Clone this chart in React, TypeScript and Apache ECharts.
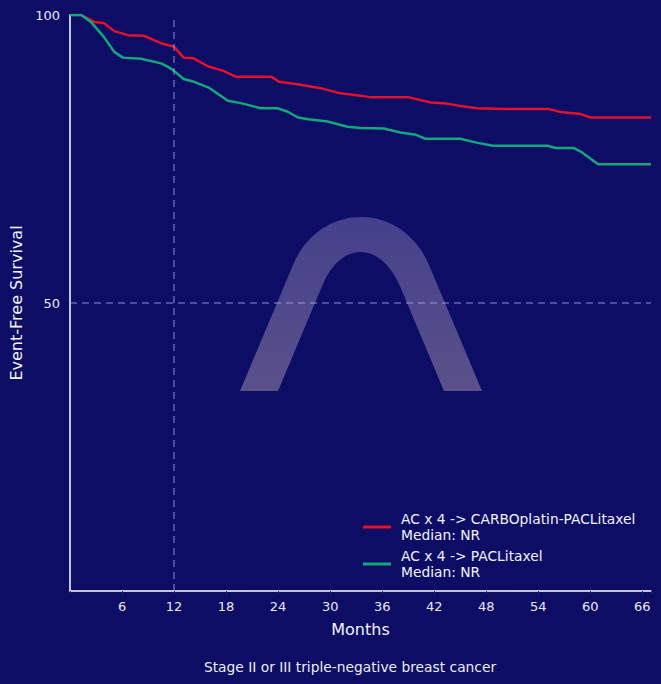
import React, { useEffect, useRef } from "react";
import * as echarts from "echarts";

// Kaplan–Meier style event-free survival estimates: [month, survival %]
const carboMonths = [0, 1.3, 2.8, 3.9, 5.1, 6.7, 8.5, 10.5, 12, 13.1, 14.2, 15.9, 17.7, 19.1, 23.2, 24.1, 26.6, 28.9, 31.2, 33.5, 34.7, 39.1, 41.6, 43.1, 45, 47, 50.2, 55.1, 56.8, 58.9, 60, 67];
const carboSurvival = [100, 100, 98.8, 98.6, 97.2, 96.5, 96.4, 95.1, 94.5, 92.6, 92.5, 91.1, 90.3, 89.3, 89.3, 88.4, 87.9, 87.3, 86.4, 86.0, 85.7, 85.7, 84.8, 84.7, 84.2, 83.8, 83.7, 83.7, 83.1, 82.8, 82.2, 82.2];

const pacliMonths = [0, 1.3, 2.4, 3.9, 5.1, 6.1, 8.2, 10.5, 11.3, 12, 13.1, 14.3, 16, 18.2, 19.7, 22, 24, 25.1, 26.3, 27.5, 29.7, 32, 33.5, 36.2, 38.1, 39.9, 41, 45, 47, 48.8, 55.1, 56, 58.1, 58.9, 60.9, 67];
const pacliSurvival = [100, 100, 98.8, 96.2, 93.6, 92.6, 92.4, 91.6, 91.0, 90.3, 88.9, 88.4, 87.4, 85.1, 84.7, 83.8, 83.8, 83.2, 82.2, 81.9, 81.5, 80.6, 80.4, 80.3, 79.6, 79.2, 78.5, 78.5, 77.8, 77.3, 77.3, 76.9, 76.9, 76.3, 74.1, 74.1];

const seriesNames = ["AC x 4 -> CARBOplatin-PACLitaxel", "AC x 4 -> PACLitaxel"];
const medianLabels = ["Median: NR", "Median: NR"];
const landmarkMonth = 12;
const halfSurvival = 50;

const FONT = "DejaVu Sans";

// Arch emblem outline
const archPath =
  "M240,391 L293,265 C320,201 402,201 429,265 L482,391 L444,391 L399.5,285 " +
  "C380,241 341,241 322.5,285 L278,391 Z";

let archRegistered = false;
function registerArch() {
  if (archRegistered) return;
  echarts.graphic.registerShape("arch", echarts.graphic.extendPath(archPath, {}) as any);
  archRegistered = true;
}

export default function App() {
  const ref = useRef<HTMLDivElement>(null);

  useEffect(() => {
    if (!ref.current) return;
    registerArch();
    const chart = echarts.init(ref.current, undefined, { renderer: "svg" });

    const zip = (xs: number[], ys: number[]) => xs.map((x, i) => [x, ys[i]]);

    chart.setOption({
      animation: false,
      backgroundColor: "#0d0d66",
      textStyle: { fontFamily: FONT },
      grid: { left: 70, right: 10, top: 15, bottom: 93 },
      xAxis: {
        type: "value",
        min: 0,
        max: 67,
        interval: 6,
        name: "Months",
        nameLocation: "middle",
        nameGap: 30,
        nameTextStyle: { color: "#f2f2f8", fontSize: 16, fontFamily: FONT },
        axisLine: { lineStyle: { color: "#ffffff", width: 1.5 } },
        axisTick: { show: true, length: 3, lineStyle: { color: "#262670" } },
        axisLabel: {
          color: "#e8e8f2",
          fontSize: 13,
          margin: 9,
          fontFamily: FONT,
          formatter: (v: number) => (v > 0 && v % 6 === 0 ? String(v) : ""),
        },
        splitLine: { show: false },
      },
      yAxis: {
        type: "value",
        min: 0,
        max: 100,
        interval: 50,
        name: "Event-Free Survival",
        nameLocation: "middle",
        nameGap: 44,
        nameTextStyle: { color: "#f2f2f8", fontSize: 16, fontFamily: FONT },
        axisLine: { show: true, lineStyle: { color: "#ffffff", width: 1.5 } },
        axisTick: { show: false },
        axisLabel: {
          color: "#e8e8f2",
          fontSize: 13,
          margin: 10,
          fontFamily: FONT,
          formatter: (v: number) => (v > 0 ? String(v) : ""),
        },
        splitLine: { show: false },
      },
      legend: {
        orient: "vertical",
        left: 358,
        top: 506,
        itemWidth: 28,
        itemHeight: 3,
        itemGap: 5,
        icon: "rect",
        data: seriesNames,
        formatter: (name: string) => `${name}\n${medianLabels[seriesNames.indexOf(name)]}`,
        textStyle: { color: "#f2f2f8", fontSize: 13.8, lineHeight: 16, fontFamily: FONT, padding: [0, 0, 0, 5] },
      },
      graphic: [
        {
          type: "arch",
          z: 0,
          silent: true,
          shape: {},
          style: {
            fill: new echarts.graphic.LinearGradient(0, 0, 0, 1, [
              { offset: 0, color: "#45408c" },
              { offset: 1, color: "#5b508a" },
            ]),
          },
        },
        {
          type: "text",
          x: 350,
          y: 667,
          style: {
            text: "Stage II or III triple-negative breast cancer",
            fill: "#ececf4",
            font: `13.8px ${FONT}`,
            align: "center",
            verticalAlign: "middle",
          },
        },
      ],
      series: [
        {
          name: seriesNames[0],
          type: "line",
          data: zip(carboMonths, carboSurvival),
          symbol: "none",
          color: "#e3112b",
          lineStyle: { width: 2.5, color: "#e3112b" },
          z: 3,
          markLine: {
            silent: true,
            symbol: "none",
            label: { show: false },
            lineStyle: { color: "rgba(170,170,235,0.55)", type: [7, 5], width: 1.5 },
            data: [{ xAxis: landmarkMonth }, { yAxis: halfSurvival }],
          },
        },
        {
          name: seriesNames[1],
          type: "line",
          data: zip(pacliMonths, pacliSurvival),
          symbol: "none",
          color: "#10a87c",
          lineStyle: { width: 2.5, color: "#10a87c" },
          z: 4,
        },
      ],
    });

    return () => chart.dispose();
  }, []);

  return (
    <div
      ref={ref}
      style={{ position: "fixed", left: 0, top: 0, width: 661, height: 684 }}
    />
  );
}
